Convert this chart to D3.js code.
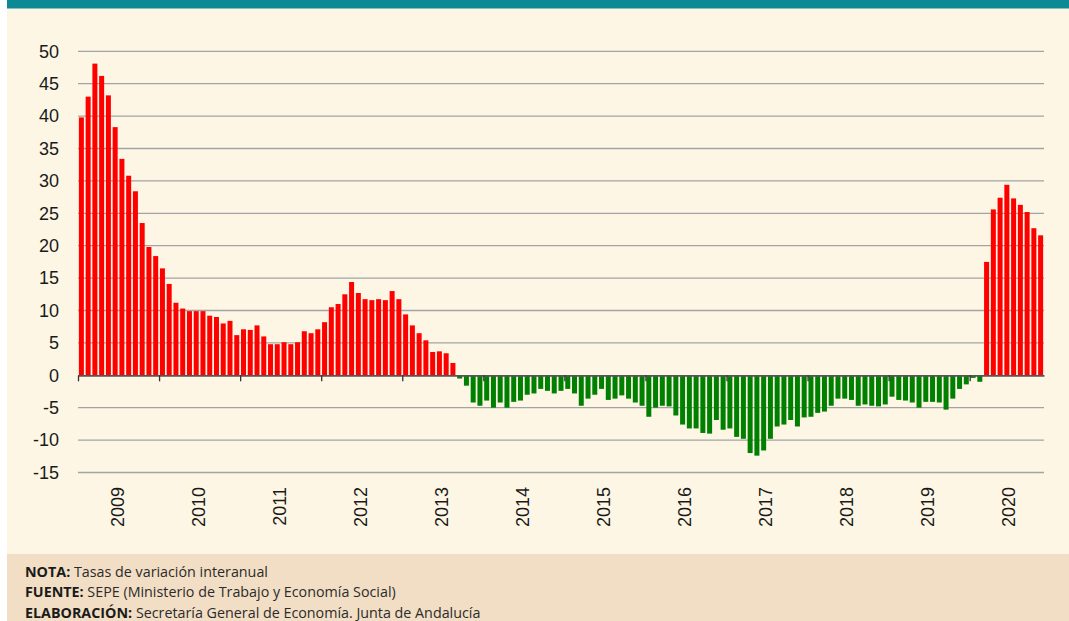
<!DOCTYPE html>
<html>
<head>
<meta charset="utf-8">
<script src="https://cdn.jsdelivr.net/npm/d3@7"></script>
<style>
  body { margin: 0; background: #ffffff; }
  svg { display: block; }
</style>
</head>
<body>
<div id="chart"></div>
<script>
// monthly values, Jan 2009 - Nov 2020 (tasas de variación interanual)
var values2009 = [39.8, 43.0, 48.1, 46.2, 43.2, 38.3, 33.4, 30.8, 28.4, 23.5, 19.8, 18.4]
var values2010 = [16.5, 14.1, 11.2, 10.3, 9.9, 9.9, 9.9, 9.2, 9.0, 8.0, 8.4, 6.2]
var values2011 = [7.1, 7.0, 7.7, 6.0, 4.8, 4.8, 5.1, 4.8, 5.1, 6.8, 6.5, 7.1]
var values2012 = [8.2, 10.5, 11.0, 12.5, 14.4, 12.7, 11.75, 11.6, 11.75, 11.6, 13.0, 11.75]
var values2013 = [9.4, 7.7, 6.5, 5.4, 3.6, 3.7, 3.4, 1.9, -0.5, -1.6, -4.2, -4.7]
var values2014 = [-3.9, -5.0, -4.2, -5.0, -4.1, -3.9, -3.0, -2.8, -2.1, -2.4, -2.8, -2.4]
var values2015 = [-2.1, -2.8, -4.7, -3.6, -3.0, -2.1, -3.8, -3.6, -3.1, -3.6, -4.2, -4.7]
var values2016 = [-6.4, -5.0, -4.7, -4.8, -6.2, -7.6, -8.2, -8.2, -8.9, -9.0, -6.9, -8.4]
var values2017 = [-8.2, -9.5, -9.8, -12.0, -12.4, -11.6, -9.8, -7.9, -7.6, -6.9, -7.9, -6.5]
var values2018 = [-6.4, -5.8, -5.6, -4.7, -3.6, -3.6, -3.8, -4.7, -4.5, -4.7, -4.8, -4.5]
var values2019 = [-3.3, -3.8, -3.9, -4.2, -5.0, -4.1, -4.1, -4.2, -5.3, -3.6, -2.1, -1.4]
var values2020 = [-0.4, -1.0, 17.5, 25.6, 27.4, 29.4, 27.3, 26.3, 25.2, 22.7, 21.6]

var years = [2009, 2010, 2011, 2012, 2013, 2014, 2015, 2016, 2017, 2018, 2019, 2020]
var yTicks = [-15, -10, -5, 0, 5, 10, 15, 20, 25, 30, 35, 40, 45, 50]

var values = [].concat(values2009, values2010, values2011, values2012, values2013, values2014,
    values2015, values2016, values2017, values2018, values2019, values2020)

var width = 1069,
    height = 621
var plot = { left: 78, right: 1044, top: 51.3, bottom: 472.5 }

var svg = d3.select("#chart")
    .append("svg")
    .attr("width", width)
    .attr("height", height)

// panel background, header band and note box
svg.append("rect").attr("x", 7).attr("y", 0).attr("width", width - 7).attr("height", height).attr("fill", "#fdf6e4")
svg.append("rect").attr("x", 7).attr("y", 0).attr("width", width - 7).attr("height", 8.5).attr("fill", "#0b8a95")
svg.append("rect").attr("x", 7).attr("y", 554).attr("width", width - 7).attr("height", height - 554).attr("fill", "#f2dec4")

// scales
var x = d3.scaleBand()
    .domain(d3.range(values.length))
    .range([plot.left, plot.right])
    .paddingInner(0.26)
    .paddingOuter(0.13)

var xm = d3.scaleLinear()
    .domain([0, values.length])
    .range([plot.left, plot.right])

var y = d3.scaleLinear()
    .domain([-15, 50])
    .range([plot.bottom, plot.top])

// gridlines
svg.append("g")
    .selectAll("line")
    .data(yTicks.filter(function (d) { return d !== 0 }))
    .enter().append("line")
    .attr("x1", plot.left)
    .attr("x2", plot.right)
    .attr("y1", function (d) { return y(d) })
    .attr("y2", function (d) { return y(d) })
    .attr("stroke", "#a3a3a3")
    .attr("stroke-width", 1.3)

// y axis labels (plain hyphen for negatives, as in the original)
var yAxis = d3.axisLeft(y)
    .tickValues(yTicks)
    .tickFormat(function (d) { return String(d) })
    .tickSize(0)
    .tickPadding(19)
var gy = svg.append("g")
    .attr("transform", "translate(" + plot.left + ",0)")
    .call(yAxis)
gy.select(".domain").remove()
gy.selectAll("text")
    .attr("font-family", "Liberation Sans, Arial, sans-serif")
    .attr("font-size", 18)
    .attr("fill", "#1a1a1a")

// bars
svg.append("g")
    .selectAll("rect")
    .data(values)
    .enter().append("rect")
    .attr("x", function (d, i) { return x(i) })
    .attr("width", x.bandwidth())
    .attr("y", function (d) { return y(Math.max(0, d)) })
    .attr("height", function (d) { return Math.abs(y(d) - y(0)) })
    .attr("fill", function (d) { return d >= 0 ? "#ff0000" : "#008000" })

// zero axis with year ticks
var xAxis = d3.axisBottom(xm)
    .tickValues(d3.range(0, values.length, 12))
    .tickFormat("")
    .tickSizeInner(6)
    .tickSizeOuter(0)
var gx = svg.append("g")
    .attr("transform", "translate(0," + y(0) + ")")
    .call(xAxis)
gx.select(".domain").attr("stroke", "#555555").attr("stroke-width", 1.8)
gx.selectAll(".tick line").attr("stroke", "#333333").attr("stroke-width", 1.3)

// year labels, rotated
svg.append("g")
    .selectAll("text")
    .data(years)
    .enter().append("text")
    .attr("transform", function (d, i) {
        return "translate(" + (xm(i * 12 + 6) - 1.5) + ",487) rotate(-90)"
    })
    .attr("text-anchor", "end")
    .attr("dy", "0.36em")
    .attr("font-family", "Liberation Sans, Arial, sans-serif")
    .attr("font-size", 18)
    .attr("fill", "#1a1a1a")
    .text(function (d) { return d })

// notes
var notes = [
    ["NOTA:", " Tasas de variación interanual"],
    ["FUENTE:", " SEPE (Ministerio de Trabajo y Economía Social)"],
    ["ELABORACIÓN:", " Secretaría General de Economía. Junta de Andalucía"]
]
var nt = svg.append("g")
    .selectAll("text")
    .data(notes)
    .enter().append("text")
    .attr("x", 25)
    .attr("y", function (d, i) { return 576.5 + i * 20.5 })
    .attr("font-family", "Open Sans, sans-serif")
    .attr("font-size", 14.3)
    .attr("fill", "#2b2b2b")
    .attr("xml:space", "preserve")
nt.append("tspan").attr("font-weight", "bold").attr("fill", "#1a1a1a").text(function (d) { return d[0] })
nt.append("tspan").text(function (d) { return d[1] })
</script>
</body>
</html>
